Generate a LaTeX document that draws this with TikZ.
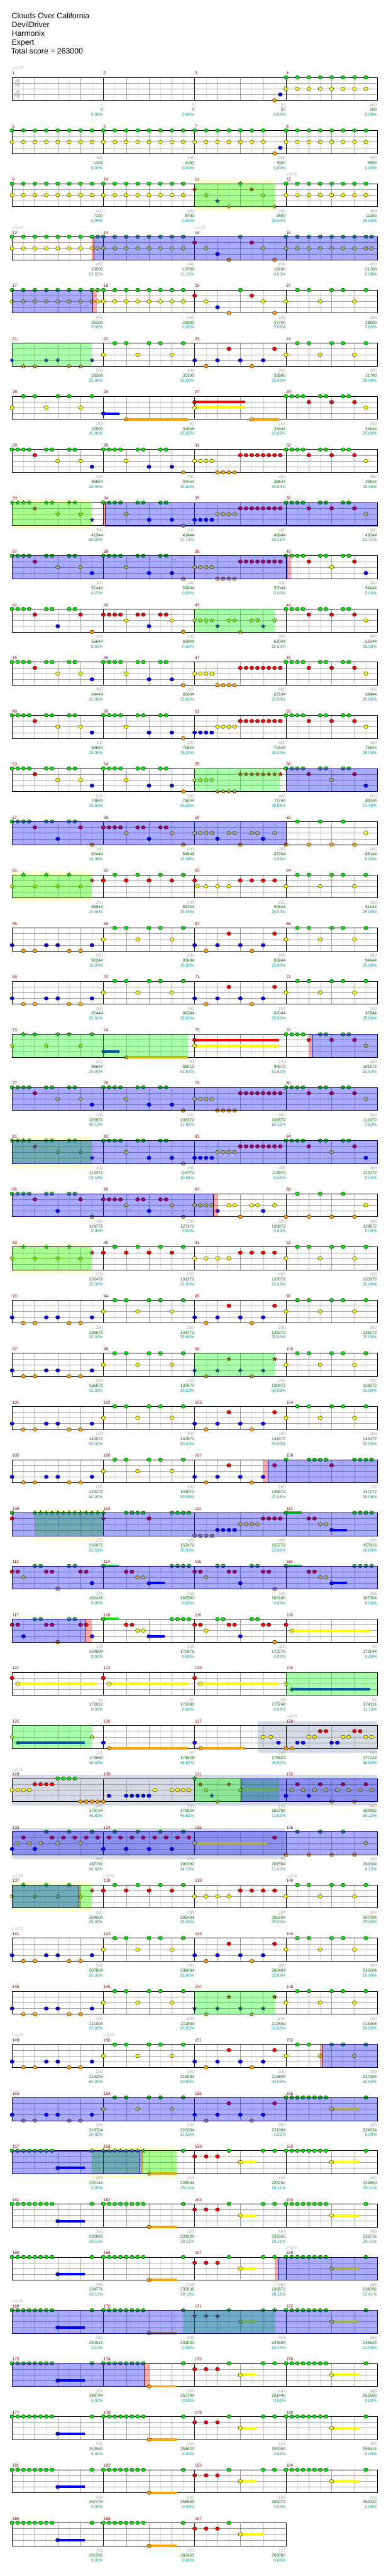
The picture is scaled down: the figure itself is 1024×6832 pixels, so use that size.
\documentclass[tikz,border=0pt]{standalone}
\usepackage{fontspec}
\setmainfont{Liberation Sans}
\newfontfamily\notefont{DejaVu Sans}
\usetikzlibrary{shapes.geometric}

\definecolor{lane0}{RGB}{0,230,0}
\definecolor{lane1}{RGB}{255,0,0}
\definecolor{lane2}{RGB}{255,255,0}
\definecolor{lane3}{RGB}{0,0,255}
\definecolor{lane4}{RGB}{255,165,0}
\definecolor{numred}{RGB}{139,0,0}
\definecolor{ptsgray}{RGB}{160,160,160}
\definecolor{totgreen}{RGB}{0,100,0}
\definecolor{pctteal}{RGB}{0,150,150}
\definecolor{odnavy}{RGB}{0,0,128}
\definecolor{spgreen}{RGB}{0,255,0}
\definecolor{solobg}{RGB}{255,255,210}
\definecolor{bandbg}{RGB}{212,218,230}
\definecolor{gridgray}{RGB}{160,160,160}
\definecolor{gridlight}{RGB}{222,222,222}

\pgfdeclarelayer{back}
\pgfdeclarelayer{over}
\pgfsetlayers{back,main,over}

\tikzset{
  gem/.style={ellipse, draw=black, line width=0.6pt, minimum width=11pt, minimum height=9.5pt, inner sep=0pt},
  spgem/.style={star, star points=5, star point ratio=2.3, draw=black, line width=0.5pt, minimum size=12pt, inner sep=0pt},
  odbox/.style={fill=lane3, fill opacity=0.333, draw=odnavy, line width=0.8pt},
  spbox/.style={fill=spgreen, fill opacity=0.333},
  actbox/.style={fill=lane1, fill opacity=0.333},
  eighthline/.style={gridlight, line width=0.6pt},
  beatline/.style={gridgray, line width=0.7pt},
  laneline/.style={gridgray, line width=0.8pt},
  barline/.style={black, line width=0.7pt},
  staffbox/.style={black, line width=1pt},
  lbl/.style={inner sep=0pt, text height=8pt, text depth=0pt, font=\fontsize{11}{11}\selectfont},
  mnum/.style={lbl, anchor=west, numred},
  pts/.style={lbl, anchor=east, ptsgray},
  tot/.style={lbl, anchor=east, totgreen},
  pct/.style={lbl, anchor=east, pctteal},
  tempo/.style={lbl, anchor=west, gray!70},
  tsig/.style={inner sep=0pt, gray!45, font=\fontsize{31}{31}\selectfont\bfseries},
  ttl/.style={anchor=west, inner sep=0pt, text height=14.5pt, text depth=0pt, font=\fontsize{20.5}{20.5}\selectfont}
}

% gems: row, measure slot, list of sixteenth/lane
\newcommand\gms[3]{\edef\gl{#3}%
  \foreach \p/\l [count=\i] in \gl
    {\node[gem, fill=lane\l] (g#1-#2-\i) at ({32+(16*#2+\p)*15.1406},{205+141*#1+15.25*\l}) {};}}
\newcommand\sts[3]{\edef\gl{#3}%
  \foreach \p/\l [count=\i] in \gl
    {\node[spgem, fill=lane\l] (s#1-#2-\i) at ({32+(16*#2+\p)*15.1406},{205+141*#1+15.25*\l}) {};}}
% sustain: row, from, to (sixteenths), lane
\newcommand\susb[4]{\fill[lane#4] ({32+#2*15.1406},{201.7+141*#1+15.25*#4}) rectangle ({32+#3*15.1406},{208.3+141*#1+15.25*#4});}
% regions: row, from, to
\newcommand\odr[3]{\begin{pgfonlayer}{over}\filldraw[odbox] ({32+#2*15.1406},{205+141*#1}) rectangle ({32+#3*15.1406},{266+141*#1});\end{pgfonlayer}}
\newcommand\spr[3]{\begin{pgfonlayer}{over}\fill[spbox] ({32+#2*15.1406},{205+141*#1}) rectangle ({32+#3*15.1406},{266+141*#1});\end{pgfonlayer}}
\newcommand\actv[3]{\begin{pgfonlayer}{over}\fill[actbox] ({32+#2*15.1406},{205+141*#1}) rectangle ({32+#3*15.1406},{266+141*#1});\end{pgfonlayer}}
\newcommand\ybg[3]{\begin{pgfonlayer}{back}\fill[solobg] ({32+#2*15.1406},{195+141*#1}) rectangle ({32+#3*15.1406},{277+141*#1});\end{pgfonlayer}}
\newcommand\gbd[3]{\begin{pgfonlayer}{back}\fill[bandbg] ({32+#2*15.1406},{195+141*#1}) rectangle ({32+#3*15.1406},{277+141*#1});\end{pgfonlayer}}

% measure patterns
\def\patA{0/0,1/0,2/0,3/0,4/1,6/0,7/0,8/2,10/0,11/0,12/2,14/3}
\def\patB{0/0,1/0,2/0,3/0,4/2,6/0,7/0,8/3,10/0,11/0,12/3,14/4}
\def\patC{0/2,1/2,2/2,3/2,4/4,5/4,6/4,7/4,8/1,9/1,10/1,11/1,12/1,13/1,14/1,15/1}
\def\patD{0/0,1/0,2/0,3/0,4/1,6/0,7/0,8/1,10/0,11/0,12/1,14/2}
\def\patE{0/3,1/3,2/3,3/3,4/2,5/2,6/2,7/2,8/1,9/1,10/1,11/1,12/1,13/1,14/1,15/1}
\def\patF{0/0,1/0,2/0,3/0,4/1,6/0,7/0,8/2,10/0,11/0,12/1,14/3}
\def\patG{0/0,1/0,2/0,3/0,4/1,6/0,7/0,8/3,10/0,11/0,12/1,14/4}
\def\patH{0/1,1/1,2/1,3/1,4/2,6/1,7/1,8/3,10/1,11/1,12/2,14/4}
\def\patI{0/2,1/2,2/2,3/2,4/3,6/2,7/2,8/4,10/2,11/2,12/3,14/2}
\def\patJ{0/4,2/0,4/4,6/0,8/4,10/0,12/4,14/2}
\def\patK{0/2,2/0,4/2,6/0,8/2,10/0,12/2,14/1}
\def\patL{0/1,2/0,4/1,6/0,8/1,10/0,12/1,14/0}
\def\patM{0/2,2/2,4/2,6/2,8/1,10/1,12/1,14/1}
\def\patN{0/2,2/0,4/0,6/2,8/0,10/0,12/2,14/0}
\def\patO{0/3,2/4,4/4,6/3,8/3,10/4,12/4,14/3}
\def\patQ{0/3,2/4,4/3,6/1,8/3,10/4,12/3,14/1}
\def\patR{0/0,0/2,2/0,2/2,4/0,4/2,6/0,6/2,8/0,8/2,10/0,10/2,12/0,12/2,14/0,14/2}
\def\patS{0/0,0/2,2/0,2/2,4/0,4/2,6/0,6/2,8/0,8/2,10/0,10/2,12/0,12/2,14/4,15/3}
\def\patT{0/1,2/2,4/3,6/4,8/0,10/1,12/2,14/4}
\def\patU{\patR,15/0,15/2}
\def\patZ{0/0,4/1,5/1,6/2,7/2,8/3,12/0,13/0,14/0,15/0}
\def\patb{0/1,1/1,2/2,4/0,5/0,6/1,7/1,8/3,10/0,11/0,12/1,13/1,14/4}
\def\patVe{0/0,1/0,2/0,3/0,4/0,5/0,6/0,7/0}
\def\patV{\patVe,8/3,14/0}
\def\patW{\patVe,8/4,14/0}
\def\patX{0/1,2/1,4/1,6/0,8/2,12/0,14/0}
\def\patY{\patVe,8/2,14/0}

\newcommand\rowq[1]{\gms{#1}{0}{\patO}\gms{#1}{1}{\patN}\gms{#1}{2}{\patQ}\gms{#1}{3}{\patN}}
\newcommand\rowv[1]{\susb{#1}{8}{12.75}{3}\susb{#1}{24}{28.8}{4}\susb{#1}{40}{42.75}{2}\susb{#1}{56}{60.75}{2}%
  \gms{#1}{0}{\patV}\gms{#1}{1}{\patW}\gms{#1}{2}{\patX}\gms{#1}{3}{\patY}}

\begin{document}
\begin{tikzpicture}[x=1pt,y=-1pt]
\begin{pgfonlayer}{back}
\fill[white] (0,0) rectangle (1024,6832);
\end{pgfonlayer}
\useasboundingbox (0,0) rectangle (1024,6832);

% header
\node[ttl] (song) at (31,42) {Clouds Over California};
\node[ttl] (artist) at (31,65) {DevilDriver};
\node[ttl] (charter) at (31,88) {Harmonix};
\node[ttl] (level) at (31,112) {Expert};
\node[ttl] (total) at (29,135) {Total score = 263000};
\node[tsig] (tsa) at (45,221) {4};
\node[tsig] (tsb) at (45,250) {4};

% staves
\foreach \r in {0,...,46}{
  \pgfmathsetmacro\yt{205+141*\r}
  \pgfmathsetmacro\xe{\r==46 ? 758.75 : 1001}
  \pgfmathtruncatemacro\nl{\r==46 ? 23 : 31}
  \pgfmathtruncatemacro\nb{\r==46 ? 16 : 24}
  \foreach \j in {1,3,...,\nl} \draw[eighthline] ({32+\j*30.28125},\yt) -- ++(0,61);
  \foreach \j in {2,4,...,\nl} \draw[beatline] ({32+\j*30.28125},\yt) -- ++(0,61);
  \foreach \k in {1,2,3} \draw[laneline] (32,{\yt+15.25*\k}) -- (\xe,{\yt+15.25*\k});
  \foreach \j in {8,16,...,\nb} \draw[barline] ({32+\j*30.28125},\yt) -- ++(0,61);
  \draw[staffbox] (32,\yt) rectangle (\xe,{\yt+61});
}

% measure numbers
\foreach \m in {1,...,187}{
  \pgfmathtruncatemacro\rr{floor((\m-0.5)/4)}
  \pgfmathtruncatemacro\ss{mod(\m-1,4)}
  \node[mnum] (m\m) at ({32.5+\ss*242.25},{194+141*\rr}) {\m};
}

% tempo marks
\foreach \r/\s/\v in {0/0/175,2/3/174,3/0/176,3/2/175,31/3/174,32/0/175,34/0/176,34/1/175,34/3/174,35/0/175,37/0/176,37/1/175,41/3/174,42/0/175}
  \node[tempo] (t\r-\s) at ({31+\s*242.25},{181+141*\r}) {{\notefont ♩}=\v};

% scores per measure
\foreach \m/\a/\b/\c in {1/0/0/0.00,2/0/0/0.00,3/50/50/0.00,4/400/500/0.00,
  5/400/1300/0.00,6/400/2450/0.00,7/400/3900/0.00,8/400/5500/0.00,
  9/400/7100/0.00,10/400/8700/0.00,11/200/9500/25.00,12/400/11100/25.00,
  13/450/13500/23.65,14/400/16500/11.15,15/200/18100/0.00,16/450/21700/0.00,
  17/450/25300/0.00,18/400/26900/0.00,19/200/27700/0.00,20/200/28500/0.00,
  21/200/29300/25.00,22/200/30100/25.00,23/200/30900/25.00,24/200/31700/25.00,
  25/200/32500/25.00,26/92/32868/25.00,27/144/33444/25.00,28/300/34644/25.00,
  29/300/35844/25.00,30/300/37044/25.00,31/400/38644/25.00,32/300/39844/25.00,
  33/300/41044/50.00,34/300/43444/37.71,35/400/46644/25.21,36/300/49044/12.71,
  37/300/51444/0.21,38/300/53844/0.00,39/400/57044/0.00,40/300/58444/0.00,
  41/300/59644/0.00,42/300/60844/0.00,43/300/62044/25.00,44/300/63244/25.00,
  45/300/64444/25.00,46/300/65644/25.00,47/400/67244/25.00,48/300/68444/25.00,
  49/300/69644/25.00,50/300/70844/25.00,51/400/72444/25.00,52/300/73644/25.00,
  53/300/74844/25.00,54/300/76044/25.00,55/400/77744/49.98,56/300/80044/37.48,
  57/300/82444/24.98,58/300/84844/12.48,59/300/87244/0.00,60/200/88144/0.00,
  61/200/88944/25.00,62/200/89744/25.00,63/225/90644/25.00,64/200/91444/25.00,
  65/200/92244/25.00,66/200/93044/25.00,67/200/93844/25.00,68/200/94644/25.00,
  69/200/95444/25.00,70/200/96244/25.00,71/200/97044/25.00,72/200/97844/25.00,
  73/200/98644/25.00,74/92/99012/61.62,75/140/99572/61.62,76/300/101572/52.62,
  77/300/103972/40.12,78/300/106372/27.62,79/400/109572/15.12,80/300/111972/2.62,
  81/300/114372/23.44,82/300/116772/10.94,83/400/119972/0.00,84/300/122372/0.00,
  85/300/124772/0.00,86/300/127172/0.00,87/300/128872/0.00,88/200/129672/0.00,
  89/200/130472/25.00,90/200/131272/25.00,91/200/132072/25.00,92/200/132872/25.00,
  93/200/133672/25.00,94/200/134472/25.00,95/200/135272/25.00,96/200/136072/25.00,
  97/200/136872/25.00,98/200/137672/25.00,99/200/138472/50.00,100/200/139272/50.00,
  101/200/140072/50.00,102/200/140872/50.00,103/200/141672/50.00,104/200/142472/50.00,
  105/200/143272/50.00,106/200/144072/50.00,107/200/145072/47.56,108/275/147272/35.06,
  109/350/150072/22.56,110/300/152472/35.06,111/400/155772/22.56,112/268/157816/10.06,
  113/325/160416/0.00,114/268/162560/0.00,115/325/165160/0.00,116/268/167304/0.00,
  117/325/169904/0.00,118/268/170976/0.00,119/325/172276/0.00,120/92/172644/0.00,
  121/92/173012/0.00,122/92/173380/0.00,123/92/173748/0.00,124/92/174116/11.76,
  125/111/174560/46.82,126/92/174928/46.82,127/149/175524/46.82,128/400/177124/46.82,
  129/400/178724/46.82,130/300/179924/46.82,131/196/180792/71.62,132/400/183992/59.12,
  133/400/187192/46.62,134/400/190392/34.12,135/89/201504/21.62,136/200/203104/9.12,
  137/200/204604/25.00,138/200/205404/25.00,139/200/206204/25.00,140/200/207004/25.00,
  141/200/207804/25.00,142/200/208604/25.00,143/200/209404/25.00,144/200/210204/25.00,
  145/200/211004/25.00,146/200/211804/25.00,147/200/212604/50.00,148/200/213404/50.00,
  149/200/214204/50.00,150/200/215004/50.00,151/200/215804/50.00,152/200/217104/42.52,
  153/200/218704/30.02,154/200/220304/17.52,155/200/221904/5.02,156/265/224024/0.00,
  157/265/226144/0.00,158/265/228004/29.11,159/184/228740/29.11,160/265/229800/29.11,
  161/265/230860/29.11,162/265/231920/29.11,163/184/232656/29.11,164/265/233716/29.11,
  165/265/234776/29.11,166/265/235836/29.11,167/184/236672/28.11,168/265/238792/15.61,
  169/265/240912/3.11,170/265/243032/0.00,171/184/244504/23.44,172/265/246624/10.94,
  173/265/248744/0.00,174/265/250704/0.00,175/184/251440/0.00,176/265/252500/0.00,
  177/265/253560/0.00,178/265/254620/0.00,179/184/255356/0.00,180/265/256416/0.00,
  181/265/257476/0.00,182/265/258536/0.00,183/184/259272/0.00,184/265/260332/0.00,
  185/265/261392/0.00,186/265/262452/0.00,187/137/263000/0.00}{
  \pgfmathtruncatemacro\rr{floor((\m-0.5)/4)}
  \pgfmathtruncatemacro\ss{mod(\m-1,4)}
  \pgfmathsetmacro\xr{31+(\ss+1)*242.25}
  \pgfmathsetmacro\yt{205+141*\rr}
  \node[pts] (a\m) at (\xr,{\yt+73}) {\a};
  \node[tot] (b\m) at (\xr,{\yt+86}) {\b};
  \node[pct] (c\m) at (\xr,{\yt+99}) {\c\%};
}

% notes, row by row
\gms{0}{2}{14/4,15/3}\gms{0}{3}{\patR}
\gms{1}{0}{\patR}\gms{1}{1}{\patR}\gms{1}{2}{\patS}\gms{1}{3}{\patR}
\gms{2}{0}{\patR}\gms{2}{1}{\patR}\sts{2}{2}{\patT}\gms{2}{3}{\patR}\ybg{2}{32}{46}\spr{2}{32}{46}
\gms{3}{0}{\patU}\gms{3}{1}{\patR}\gms{3}{2}{\patT}\gms{3}{3}{\patU}\actv{3}{14}{14.3}\odr{3}{14.3}{64}
\gms{4}{0}{\patU}\gms{4}{1}{\patR}\gms{4}{2}{\patT}\gms{4}{3}{\patN}\odr{4}{0}{14.1}\actv{4}{14.1}{14.9}
\sts{5}{0}{\patO}\gms{5}{1}{\patN}\gms{5}{2}{\patQ}\gms{5}{3}{\patN}\spr{5}{0}{14}
\gms{6}{0}{\patN}\susb{6}{16}{18.8}{3}\susb{6}{20}{30.8}{4}\gms{6}{1}{0/3,4/4}
\susb{6}{32}{40.8}{1}\susb{6}{32}{40.8}{2}\susb{6}{42}{46.75}{4}\gms{6}{2}{0/1,0/2,10/4}\gms{6}{3}{\patD}
\gms{7}{0}{\patA}\gms{7}{1}{\patB}\gms{7}{2}{\patC}\gms{7}{3}{\patD}
\sts{8}{0}{\patA}\gms{8}{1}{\patB}\gms{8}{2}{\patE}\gms{8}{3}{\patD}\ybg{8}{0}{14}\spr{8}{0}{14}\actv{8}{16}{16.3}\odr{8}{16.3}{64}
\gms{9}{0}{\patA}\gms{9}{1}{\patB}\gms{9}{2}{\patC}\gms{9}{3}{\patF}\odr{9}{0}{48.2}\actv{9}{48.2}{48.9}
\gms{10}{0}{\patG}\gms{10}{1}{\patH}\sts{10}{2}{\patI}\gms{10}{3}{\patD}\spr{10}{32}{46}
\gms{11}{0}{\patA}\gms{11}{1}{\patB}\gms{11}{2}{\patC}\gms{11}{3}{\patD}
\gms{12}{0}{\patA}\gms{12}{1}{\patB}\gms{12}{2}{\patE}\gms{12}{3}{\patD}
\gms{13}{0}{\patA}\gms{13}{1}{\patB}\sts{13}{2}{\patC}\gms{13}{3}{\patF}\spr{13}{32}{47}\odr{13}{48}{64}
\gms{14}{0}{\patG}\gms{14}{1}{\patH}\gms{14}{2}{\patI}\gms{14}{3}{\patJ}\odr{14}{0}{48}
\sts{15}{0}{\patK}\gms{15}{1}{\patL}\gms{15}{2}{0/1,0.5/2,2/2,4/2,6/2,8/1,10/1,12/1,14/1}\gms{15}{3}{\patN}\ybg{15}{0}{14}\spr{15}{0}{14}
\rowq{16}
\rowq{17}
\sts{18}{0}{\patN}\susb{18}{16}{18.8}{3}\susb{18}{20}{30.8}{4}\sts{18}{1}{0/3,4/4}
\susb{18}{32}{46.75}{1}\susb{18}{32}{46.75}{2}\gms{18}{2}{0/1,0/2}\gms{18}{3}{\patD}\spr{18}{0}{30.8}\actv{18}{52}{52.5}\odr{18}{52.5}{64}
\gms{19}{0}{\patA}\gms{19}{1}{\patB}\gms{19}{2}{\patC}\gms{19}{3}{\patD}\odr{19}{0}{64}
\sts{20}{0}{\patA}\gms{20}{1}{\patB}\gms{20}{2}{\patE}\gms{20}{3}{\patF}\ybg{20}{0}{14}\spr{20}{0}{14}\odr{20}{0}{64}
\gms{21}{0}{\patG}\gms{21}{1}{\patH}\gms{21}{2}{\patI}\gms{21}{3}{\patJ}\odr{21}{0}{35.3}\actv{21}{35.3}{36}
\sts{22}{0}{\patK}\gms{22}{1}{\patL}\gms{22}{2}{\patM}\gms{22}{3}{\patN}\ybg{22}{0}{14}\spr{22}{0}{14}
\rowq{23}
\gms{24}{0}{\patO}\gms{24}{1}{\patN}\sts{24}{2}{\patQ}\gms{24}{3}{\patN}\spr{24}{32}{46}
\rowq{25}
\gms{26}{0}{\patO}\gms{26}{1}{\patN}\gms{26}{2}{\patQ}\gms{26}{3}{0/0,4/0,5/0,6/0,7/0,8/1,12/0,13/0,14/0,15/0}\actv{26}{44}{44.8}\odr{26}{44.8}{64}
\gms{27}{0}{0/0,0/1}\sts{27}{0}{4/0,5/0,6/0,7/0,8/0,9/0,10/0,11/0,12/0,13/0,14/0,15/0}\sts{27}{1}{0/0,0/1}
\gms{27}{1}{4/0,5/0,6/0,7/0,8/1,12/0,13/0,14/0,15/0}\gms{27}{2}{0/4,1/4,2/4,3/4,4/3,5/3,6/3,7/3,8/2,9/2,10/2,11/2,12/1,13/1,14/1,15/1}
\susb{27}{48}{50.75}{0}\susb{27}{56}{58.75}{3}\gms{27}{3}{\patZ}\ybg{27}{4}{16}\spr{27}{4}{16}\odr{27}{0}{64}
\gms{28}{0}{0/1,1/1,2/2,4/0,5/0,6/1,7/1,8/4,10/0,11/0,12/1,13/1,14/3}\susb{28}{16}{18.75}{0}\susb{28}{24}{26.75}{3}\gms{28}{1}{\patZ}
\gms{28}{2}{\patb}\susb{28}{48}{50.75}{0}\susb{28}{56}{58.75}{3}\gms{28}{3}{\patZ}\odr{28}{0}{64}
\gms{29}{0}{0/1,1/1,2/3,4/0,5/0,6/1,7/1,8/4,10/0,11/0,12/1,13/1,14/3}\susb{29}{16}{18.75}{0}\susb{29}{24}{26.75}{3}\gms{29}{1}{\patZ}
\gms{29}{2}{\patb}\susb{29}{49}{62.75}{2}\gms{29}{3}{0/1,1/2}\odr{29}{0}{12.8}\actv{29}{12.8}{14}
\susb{30}{1}{14.75}{2}\gms{30}{0}{0/1,1/2}\susb{30}{17}{30.8}{2}\gms{30}{1}{0/1,1/2}\susb{30}{33}{46.75}{2}\gms{30}{2}{0/1,1/2}
\susb{30}{49}{62.75}{3}\sts{30}{3}{0/2,1/3}\spr{30}{48}{64}
\susb{31}{1}{12.75}{3}\sts{31}{0}{0/2,1/3,14/2}\susb{31}{17}{30.8}{4}\gms{31}{1}{0/3,1/4}\susb{31}{33}{40.8}{4}\gms{31}{2}{0/3,1/4,12/2,13.33/2,14.67/3}
\gms{31}{3}{0/4,1/4,2/3,3/3,4/2,5/2,6/1,7/1,8/3,9/3,10/2,11/2,12/1,13/1,14/2,15/2}\spr{31}{0}{14}\gbd{31}{43}{64}
\gms{32}{0}{0/2,1/2,2/2,3/2,4/1,5/1,6/1,7/1,8/0,9/0,10/0,11/0,12/4,13/4,14/4,15/4}\gms{32}{1}{0/4,1/3,4/3,5/3,6/3,7/3,8/3,9/2,12/2,13/2,14/2,15/2}
\susb{32}{40}{46.75}{2}\sts{32}{2}{0/0,1/1,2/2,3/3,4/4,6/1,8/2}\gms{32}{3}{0/3,1/2,2/1,3/2,4/3,5/2,6/1,7/2,8/4,9/2,10/1,11/2,12/4,13/2,14/1,15/2}
\gbd{32}{0}{64}\spr{32}{32}{46.75}\odr{32}{40.1}{64}
\gms{33}{0}{0/3,1/2,2/1,3/2,4/3,5/2,6/0,7/1,8/2,9/1,10/0,11/1,12/2,13/1,14/0,15/1}\gms{33}{1}{0/3,1/1,2/0,3/1,4/3,5/1,6/0,7/1,8/3,9/1,10/0,11/1,12/3,13/1,14/0,15/1}
\susb{33}{32}{44.7}{2}\gms{33}{2}{0/2,14/1}\gms{33}{3}{\patJ}\gbd{33}{0}{47.8}\odr{33}{0}{64}
\sts{34}{0}{\patK}\gms{34}{1}{\patL}\gms{34}{2}{\patM}\gms{34}{3}{\patN}\ybg{34}{0}{14}\spr{34}{0}{14}\odr{34}{0}{11.7}\actv{34}{11.7}{12}
\rowq{35}
\gms{36}{0}{\patO}\gms{36}{1}{\patN}\sts{36}{2}{\patQ}\gms{36}{3}{\patN}\spr{36}{32}{46}
\rowq{37}\actv{37}{54}{54.4}\odr{37}{54.4}{64}
\gms{38}{0}{\patO}\gms{38}{1}{\patN}\gms{38}{2}{\patQ}\susb{38}{56}{60.75}{2}\gms{38}{3}{\patY}\odr{38}{0}{64}
\susb{39}{8}{12.75}{3}\gms{39}{0}{\patVe,8/3}\sts{39}{0}{14/0}\susb{39}{24}{28.8}{4}\sts{39}{1}{\patVe,8/4}\gms{39}{1}{14/0}
\susb{39}{40}{42.75}{2}\gms{39}{2}{\patX}\susb{39}{56}{60.75}{2}\gms{39}{3}{\patY}\ybg{39}{14}{28.8}\spr{39}{14}{28.8}\odr{39}{0}{22.4}\actv{39}{22.4}{23}
\rowv{40}
\rowv{41}\actv{41}{46}{46.6}\odr{41}{46.6}{64}
\susb{42}{8}{12.75}{3}\gms{42}{0}{\patV}\susb{42}{24}{28.8}{4}\gms{42}{1}{\patVe,8/4}\sts{42}{1}{14/0}
\susb{42}{40}{42.75}{2}\sts{42}{2}{\patX}\susb{42}{56}{60.75}{2}\gms{42}{3}{\patY}\spr{42}{30}{46}\odr{42}{0}{64}
\rowv{43}\odr{43}{0}{23.1}\actv{43}{23.1}{24}
\rowv{44}
\rowv{45}
\susb{46}{8}{12.75}{3}\gms{46}{0}{\patV}\susb{46}{24}{28.8}{4}\gms{46}{1}{\patW}\susb{46}{40}{44}{2}\gms{46}{2}{0/1,2/1,4/1,6/0,8/2}
\end{tikzpicture}
\end{document}
